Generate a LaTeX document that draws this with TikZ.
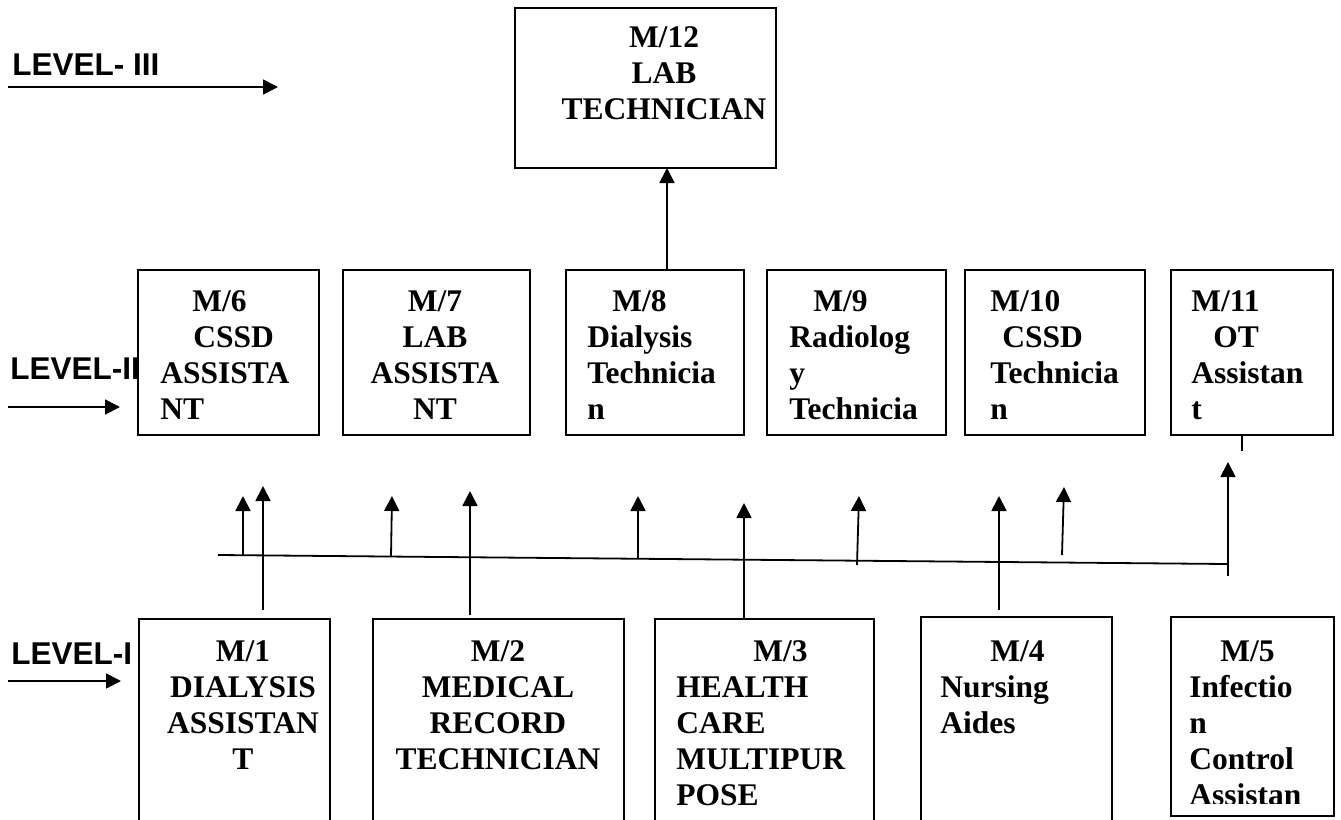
\documentclass[tikz,border=0pt]{standalone}
\usepackage{fontspec}
\setmainfont{Liberation Serif}
\newfontfamily\lvfont{Liberation Sans}
\usetikzlibrary{arrows.meta,fit}

\begin{document}
\begin{tikzpicture}
  [x=0.5pt, y=-0.5pt,
  box/.style={draw, line width=0.85pt, inner sep=0pt},
  txt/.style={inner sep=0pt, anchor=north west, align=left,
    font=\fontsize{15.75}{18}\selectfont\bfseries},
  ctxt/.style={txt, anchor=north, align=center},
  lvl/.style={inner sep=0pt, anchor=base west,
    font=\lvfont\fontsize{15.75}{18}\selectfont\bfseries},
  arr/.style={line width=0.9pt, -{Triangle[length=7.5pt,width=7.5pt]}}]
  \useasboundingbox (0,0) rectangle (1341,820);
  \clip (0,0) rectangle (1341,820);

  % level labels
  \node[lvl] (lv3) at (12,75) {LEVEL- III};
  \node[lvl] (lv2) at (10,379) {LEVEL-II};
  \node[lvl] (lv1) at (11,664) {LEVEL-I};
  \coordinate (lv3a) at (8,87);  \coordinate (lv3b) at (278,87);
  \coordinate (lv2a) at (8,407); \coordinate (lv2b) at (120,407);
  \coordinate (lv1a) at (8,681); \coordinate (lv1b) at (121,681);
  \foreach \l in {1,2,3}
    \draw[arr] (lv\l a) -- (lv\l b);

  % level III
  \node[box, fit={(515,8) (776,168)}] (m12) {};
  \node[ctxt] (m12t) at (664,26) {M/12\\LAB\\TECHNICIAN};

  % level II
  \node[box, fit={(138,270) (319,435)}] (m6) {};
  \node[box, fit={(343,270) (530,435)}] (m7) {};
  \node[box, fit={(566,270) (744,435)}] (m8) {};
  \node[box, fit={(767,270) (946,435)}] (m9) {};
  \node[box, fit={(965,270) (1145,435)}] (m10) {};
  \node[box, fit={(1171,270) (1333,435)}] (m11) {};
  \node[txt] (m6t) at (160,290) {\hspace*{16pt}M/6\\\hspace*{16.5pt}CSSD\\ASSISTA\\NT};
  \node[ctxt] (m7t) at (435,290) {M/7\\LAB\\ASSISTA\\NT};
  \node[txt] (m8t) at (587,290) {\hspace*{12.5pt}M/8\\Dialysis\\Technicia\\n};
  \node[txt] (m9t) at (789,290) {\hspace*{12pt}M/9\\Radiolog\\y\\Technicia};
  \node[txt] (m10t) at (990,290) {M/10\\\hspace*{6pt}CSSD\\Technicia\\n};
  \node[txt] (m11t) at (1191,290) {M/11\\\hspace*{11pt}OT\\Assistan\\t};

  % level I
  \node[box, fit={(139,619) (330,840)}] (m1) {};
  \node[box, fit={(373,619) (624,840)}] (m2) {};
  \node[box, fit={(655,619) (874,840)}] (m3) {};
  \node[box, fit={(921,617) (1112,840)}] (m4) {};
  \node[box, fit={(1171,617) (1334,816)}] (m5) {};
  \node[ctxt] (m1t) at (243,640) {M/1\\DIALYSIS\\ASSISTAN\\T};
  \node[ctxt] (m2t) at (498,640) {M/2\\MEDICAL\\RECORD\\TECHNICIAN};
  \node[txt] (m3t) at (676,640) {\hspace*{38.5pt}M/3\\HEALTH\\CARE\\MULTIPUR\\POSE};
  \node[txt] (m4t) at (940,640) {\hspace*{25pt}M/4\\Nursing\\Aides};
  \begin{scope}
    \clip (1171,617) rectangle (1334,803);
    \node[txt] (m5t) at (1189,640) {\hspace*{15.5pt}M/5\\Infectio\\n\\Control\\Assistan};
  \end{scope}

  % connectors
  \coordinate (up8) at (667,270);
  \coordinate (dn12) at (667,168);
  \draw[arr] (up8) -- (dn12);
  \coordinate (t11a) at (1242,435);
  \coordinate (t11b) at (1242,451);
  \draw[line width=0.9pt] (t11a) -- (t11b);
  \coordinate (busL) at (218,555);
  \coordinate (busR) at (1227,564);
  \draw[line width=0.9pt] (busL) -- (busR);
  % arrows from the bus line
  \foreach \i/\xa/\ya/\xb/\yb in {1/243/555/243/496, 2/391/557/392/496,
      3/638/559/638/496, 4/857/565/859/496, 5/1062/555/1064/487,
      6/1228/576/1228/462}{
    \coordinate (bs\i) at (\xa,\ya);
    \coordinate (bt\i) at (\xb,\yb);
    \draw[arr] (bs\i) -- (bt\i);
  }
  % arrows from level I
  \foreach \i/\xa/\ya/\yb in {1/263/610/486, 2/470/615/491,
      3/744/619/503, 4/999/610/496}{
    \coordinate (ls\i) at (\xa,\ya);
    \coordinate (lt\i) at (\xa,\yb);
    \draw[arr] (ls\i) -- (lt\i);
  }
\end{tikzpicture}
\end{document}
